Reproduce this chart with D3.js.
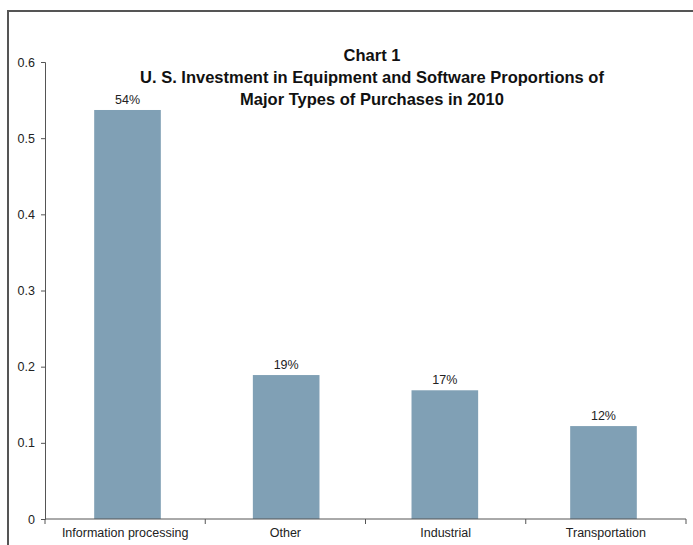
<!DOCTYPE html>
<html>
<head>
<meta charset="utf-8">
<script src="https://cdn.jsdelivr.net/npm/d3@7"></script>
<style>
  body { margin: 0; background: #fff; }
  svg { display: block; font-family: "Liberation Sans", Arial, sans-serif; }
</style>
</head>
<body>
<svg width="693" height="545"></svg>
<script>
// data
const categories = ["Information processing", "Other", "Industrial", "Transportation"];
const shares = [0.537, 0.189, 0.169, 0.122];
const labels = ["54%", "19%", "17%", "12%"];
const yTicks = [0, 0.1, 0.2, 0.3, 0.4, 0.5, 0.6];
const titleLines = ["Chart 1",
  "U. S. Investment in Equipment and Software Proportions of",
  "Major Types of Purchases in 2010"];

const svg = d3.select("svg");
const margin = {left: 45, top: 62, right: 7, bottom: 26};
const width = 693 - margin.left - margin.right;
const height = 545 - margin.top - margin.bottom;

// frame
svg.append("path")
  .attr("d", "M8,545V11H693")
  .attr("fill", "none")
  .attr("stroke", "#555")
  .attr("stroke-width", 2);

const g = svg.append("g")
  .attr("transform", "translate(" + margin.left + "," + margin.top + ")");

const x = d3.scaleBand().domain(categories).range([0, width]).paddingInner(0.58).paddingOuter(0.31);
const y = d3.scaleLinear().domain([0, 0.6]).range([height, 0]);

// bars
g.selectAll("rect")
  .data(shares)
  .enter()
  .append("rect")
  .attr("x", (d, i) => x(categories[i]))
  .attr("y", d => y(d))
  .attr("width", x.bandwidth())
  .attr("height", d => height - y(d))
  .attr("fill", "#80a0b5");

g.selectAll(".lbl")
  .data(shares)
  .enter()
  .append("text")
  .attr("class", "lbl")
  .attr("x", (d, i) => x(categories[i]) + x.bandwidth() / 2)
  .attr("y", d => y(d) - 6)
  .attr("text-anchor", "middle")
  .attr("font-size", 12.5)
  .attr("fill", "#222")
  .text((d, i) => labels[i]);

// y axis
const yAxis = g.append("g")
  .call(d3.axisLeft(y).tickValues(yTicks).tickSize(4).tickPadding(6)
    .tickFormat(d => d === 0 ? "0" : d3.format(".1f")(d)));
yAxis.selectAll("text").attr("font-size", 12.5).attr("fill", "#222").attr("font-family", "Liberation Sans, Arial, sans-serif");
yAxis.selectAll("line, path").attr("stroke", "#555");

// x axis with ticks at band boundaries
const step = width / categories.length;
const xAxis = g.append("g").attr("transform", "translate(0," + height + ")");
xAxis.append("line")
  .attr("x1", 0).attr("x2", width)
  .attr("stroke", "#555");
xAxis.selectAll(".tk")
  .data(d3.range(categories.length + 1))
  .enter()
  .append("line")
  .attr("x1", d => d * step).attr("x2", d => d * step)
  .attr("y1", 0).attr("y2", 5)
  .attr("stroke", "#555");
xAxis.selectAll(".cat")
  .data(categories)
  .enter()
  .append("text")
  .attr("x", (d, i) => (i + 0.5) * step)
  .attr("y", 18)
  .attr("text-anchor", "middle")
  .attr("font-size", 12.5)
  .attr("fill", "#222")
  .text(d => d);

// title
svg.selectAll(".title")
  .data(titleLines)
  .enter()
  .append("text")
  .attr("x", 372)
  .attr("y", (d, i) => 61 + i * 22)
  .attr("text-anchor", "middle")
  .attr("font-size", 16.5)
  .attr("font-weight", "bold")
  .attr("fill", "#111")
  .text(d => d);
</script>
</body>
</html>
